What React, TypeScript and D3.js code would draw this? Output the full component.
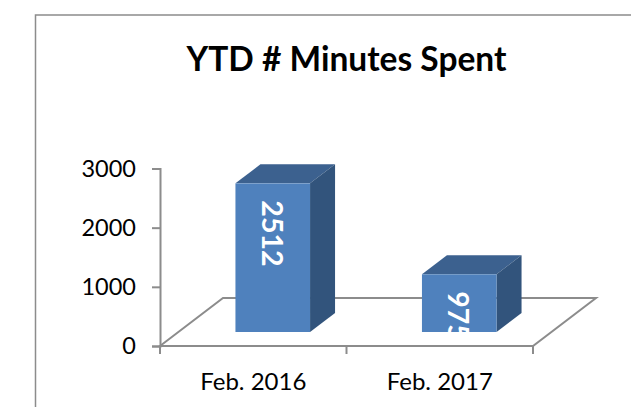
import React, { useEffect, useRef } from "react";
import * as d3 from "d3";

const title = "YTD # Minutes Spent";
const categories = ["Feb. 2016", "Feb. 2017"];
const values = [2512, 975];
const yTicks = [0, 1000, 2000, 3000];

const width = 631, height = 407;
const font = "Lato, Carlito, sans-serif";
const grey = "#8c8c8c";

const App = () => {
  const ref = useRef<SVGSVGElement>(null);

  useEffect(() => {
    const svg = d3.select(ref.current);
    svg.selectAll("*").remove();

    const y = d3.scaleLinear().domain([0, 3000]).range([346, 168.5]);
    const x = d3.scaleBand().domain(categories).range([160, 533]);
    const barW = x.bandwidth() * 0.4;

    // floor depth and bar depth of the fake 3d
    const floorDx = 63, floorDy = -48;
    const barDx = 25, barDy = -19;
    const shiftX = 19.5, shiftY = -14;

    // frame, only left and top are visible
    svg.append("path")
      .attr("d", "M35.5,407V15H631")
      .attr("fill", "none")
      .attr("stroke", grey)
      .attr("stroke-width", 1.5);

    svg.append("text")
      .attr("x", 346.5)
      .attr("y", 71)
      .attr("text-anchor", "middle")
      .attr("font-family", font)
      .attr("font-weight", 700)
      .attr("font-size", 33.5)
      .attr("fill", "#000")
      .text(title);

    const x0 = x.range()[0], x1 = x.range()[1], y0 = y(0);

    // floor
    svg.append("path")
      .attr("d", `M${x0},${y0}L${x0 + floorDx},${y0 + floorDy}L${x1 + floorDx},${y0 + floorDy}L${x1},${y0}Z`)
      .attr("fill", "none")
      .attr("stroke", grey)
      .attr("stroke-width", 2);

    // axes
    const axisY = svg.append("g").attr("transform", `translate(${x0},0)`)
      .call(d3.axisLeft(y).tickValues(yTicks).tickFormat(d3.format("d")).tickSize(8).tickPadding(16));
    const axisX = svg.append("g").attr("transform", `translate(0,${y0})`)
      .call(d3.axisBottom(x).tickValues(categories).tickSize(0).tickPadding(27));

    axisY.selectAll("path, line").attr("stroke", grey).attr("stroke-width", 2);
    axisY.selectAll("text").attr("font-family", font).attr("font-size", 23.5).attr("fill", "#000");
    axisX.select("path").remove();
    axisX.selectAll("line").remove();
    axisX.selectAll("text").attr("font-family", font).attr("font-size", 24).attr("fill", "#000");

    // x ticks sit between the bands
    svg.selectAll(".xtick")
      .data([x0, x0 + x.step(), x1])
      .enter()
      .append("line")
      .attr("x1", d => d)
      .attr("x2", d => d)
      .attr("y1", y0)
      .attr("y2", y0 + 8)
      .attr("stroke", grey)
      .attr("stroke-width", 2);

    const defs = svg.append("defs");

    categories.forEach((c, i) => {
      const left = x(c)! + x.bandwidth() / 2 - barW / 2 + shiftX;
      const right = left + barW;
      const top = y(values[i]) + shiftY;
      const bottom = y0 + shiftY;

      const g = svg.append("g");
      g.append("path")
        .attr("d", `M${left},${top}L${left + barDx},${top + barDy}L${right + barDx},${top + barDy}L${right},${top}Z`)
        .attr("fill", "#3c618f");
      g.append("path")
        .attr("d", `M${right},${top}L${right + barDx},${top + barDy}L${right + barDx},${bottom + barDy}L${right},${bottom}Z`)
        .attr("fill", "#32547c");
      g.append("rect")
        .attr("x", left)
        .attr("y", top)
        .attr("width", barW)
        .attr("height", bottom - top)
        .attr("fill", "#4f81bd");

      // the data label gets cut off at the bar's bottom edge
      defs.append("clipPath")
        .attr("id", `clip${i}`)
        .append("rect")
        .attr("x", left)
        .attr("y", top)
        .attr("width", barW)
        .attr("height", bottom - top);

      g.append("g")
        .attr("clip-path", `url(#clip${i})`)
        .append("text")
        .attr("transform", `translate(${left + barW / 2 - 11},${top + 17}) rotate(90)`)
        .attr("font-family", font)
        .attr("font-weight", 700)
        .attr("font-size", 28.5)
        .attr("fill", "#fff")
        .text(values[i]);
    });
  }, []);

  return (
    <svg
      ref={ref}
      width={width}
      height={height}
      style={{ position: "absolute", left: 0, top: 0, background: "#fff" }}
    />
  );
};

export default App;
